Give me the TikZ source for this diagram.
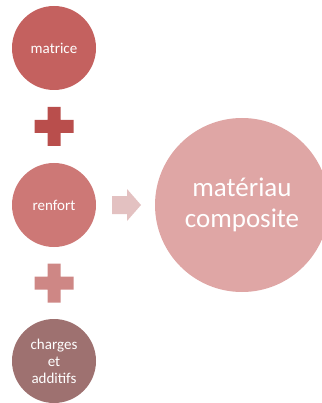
\documentclass[tikz,border=0pt]{standalone}
\usepackage{fontspec}
\setmainfont{Carlito}
\definecolor{cA}{RGB}{196,97,95}
\definecolor{pA}{RGB}{185,78,76}
\definecolor{cB}{RGB}{205,120,118}
\definecolor{pB}{RGB}{206,135,133}
\definecolor{cC}{RGB}{158,113,112}
\definecolor{arr}{RGB}{227,193,193}
\definecolor{cD}{RGB}{223,166,165}
\tikzset{
  small/.style={circle, minimum size=84pt, inner sep=0pt, text=white, font=\fontsize{15}{17}\selectfont, align=center},
  big/.style={circle, minimum size=174pt, inner sep=0pt, text=white, font=\fontsize{27}{31}\selectfont, align=center, fill=cD},
}
\begin{document}
\begin{tikzpicture}[x=1pt,y=-1pt]
\useasboundingbox (0,0) rectangle (321,403);
\node[small, fill=cA] (mat) at (54,48) {matrice};
\node[small, fill=cB] (ren) at (54,205) {renfort};
\node[small, fill=cC] (cha) at (54,361) {charges\\et\\additifs};
\node[big] (comp) at (242,205) {matériau\\composite};
% plus signs
\fill[pA] (47.5,107) -- (60.5,107) -- (60.5,120) -- (73.5,120) -- (73.5,133) -- (60.5,133) -- (60.5,146) -- (47.5,146) -- (47.5,133) -- (34.5,133) -- (34.5,120) -- (47.5,120) -- cycle;
\fill[pB] (47.5,263.5) -- (60.5,263.5) -- (60.5,276.5) -- (73.5,276.5) -- (73.5,289.5) -- (60.5,289.5) -- (60.5,302.5) -- (47.5,302.5) -- (47.5,289.5) -- (34.5,289.5) -- (34.5,276.5) -- (47.5,276.5) -- cycle;
% arrow
\fill[arr] (112,196) -- (127,196) -- (127,189) -- (141,205) -- (127,221) -- (127,214) -- (112,214) -- cycle;
\end{tikzpicture}
\end{document}
